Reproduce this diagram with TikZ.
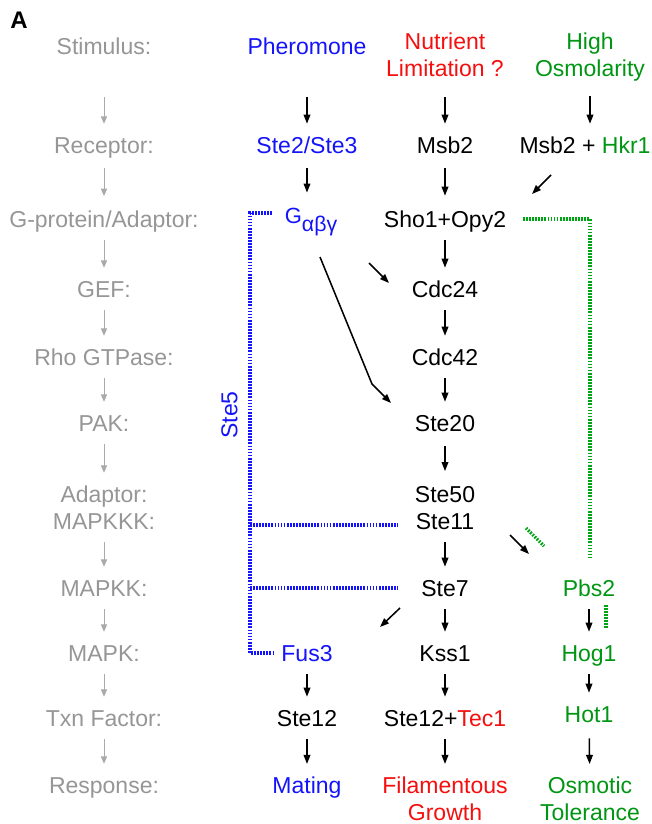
\documentclass[tikz,border=0pt]{standalone}
\usepackage{fontspec}
\setmainfont{Liberation Sans}
\usetikzlibrary{arrows.meta}
\definecolor{cblue}{RGB}{20,20,250}
\definecolor{cred}{RGB}{245,15,15}
\definecolor{cgreen}{RGB}{0,150,20}
\definecolor{cdgreen}{RGB}{0,165,20}
\definecolor{cgray}{RGB}{150,150,150}
\definecolor{cgrayl}{RGB}{170,170,170}
\begin{document}
\begin{tikzpicture}[x=0.75pt,y=-0.75pt,
  every node/.style={inner sep=0pt, outer sep=0pt, font=\fontsize{17.25pt}{20.25pt}\selectfont},
  txt/.style={text height=12.4pt, text depth=0pt, anchor=center},
  ml/.style={align=center, anchor=north},
  lbl/.style={txt, text=cgray},
  arr/.style={-{Triangle[length=6.8pt,width=5pt]}, line width=1.15pt, black, shorten <=9.75pt, shorten >=9.75pt},
  garr/.style={-{Triangle[length=5.5pt,width=4.6pt]}, line width=0.65pt, cgrayl, shorten <=9.75pt, shorten >=9.75pt},
  bdot/.style={cblue, line width=2.4pt, dash pattern=on 1.3pt off 1pt},
  gdot/.style={cdgreen, line width=2.4pt, dash pattern=on 1.3pt off 1pt}
]
\useasboundingbox[fill=white] (0,0) rectangle (652,824);

% panel letter
\node[font=\fontsize{18pt}{20pt}\bfseries\selectfont, anchor=base] (A) at (19,29) {A};

% left gray labels
\node[lbl] (l1) at (104,46) {Stimulus:};
\node[lbl] (l2) at (104,145) {Receptor:};
\node[lbl] (l3) at (104,219) {G-protein/Adaptor:};
\node[lbl] (l4) at (104,289) {GEF:};
\node[lbl] (l5) at (104,357) {Rho GTPase:};
\node[lbl] (l6) at (104,423) {PAK:};
\node[lbl] (l7) at (104,494) {Adaptor:};
\node[lbl] (l8) at (104,521) {MAPKKK:};
\node[lbl] (l9) at (104,588) {MAPKK:};
\node[lbl] (l10) at (104,653) {MAPK:};
\node[lbl] (l11) at (104,718) {Txn Factor:};
\node[lbl] (l12) at (104,785) {Response:};

\draw[garr, shorten <=32pt] (l1) -- (l2);
\draw[garr, shorten <=11pt, shorten >=11pt] (l2) -- (l3);
\draw[garr] (l3) -- (l4);
\draw[garr] (l4) -- (l5);
\draw[garr] (l5) -- (l6);
\draw[garr] (l6) -- (l7);
\draw[garr] (l8) -- (l9);
\draw[garr] (l9) -- (l10);
\draw[garr] (l10) -- (l11);
\draw[garr] (l11) -- (l12);

% pheromone column
\node[txt, text=cblue] (pher) at (307,46) {Pheromone};
\node[txt, text=cblue] (ste23) at (307,145) {Ste2/Ste3};
\node[anchor=base, text=cblue, font=\fontsize{16.5pt}{18pt}\selectfont] (gab) at (311,223) {G\raisebox{-6.5pt}{\fontsize{16pt}{18pt}\selectfont αβγ}};
\node[txt, text=cblue] (fus3) at (307,653) {Fus3};
\node[txt] (ste12) at (307,718) {Ste12};
\node[ml, text=cblue] (mat) at (307,777) {Mating};
\node[txt, text=cblue, rotate=90] (ste5) at (229,415) {Ste5};

% filamentous column
\node[ml, text=cred] (nut) at (445,33) {Nutrient\\Limitation ?};
\node[txt] (msb) at (445,145) {Msb2};
\node[txt] (sho) at (445,219) {Sho1+Opy2};
\node[txt] (cdc24) at (445,289) {Cdc24};
\node[txt] (cdc42) at (445,357) {Cdc42};
\node[txt] (ste20) at (445,423) {Ste20};
\node[txt] (ste50) at (445,494) {Ste50};
\node[txt] (ste11) at (445,521) {Ste11};
\node[txt] (ste7) at (445,588) {Ste7};
\node[txt] (kss1) at (445,653) {Kss1};
\node[txt] (tec) at (445,718) {Ste12+\textcolor{cred}{Tec1}};
\node[ml, text=cred] (fil) at (445,777) {Filamentous\\Growth};

% osmolarity column
\node[ml, text=cgreen] (high) at (590,33) {High\\Osmolarity};
\node[txt] (mh) at (585,145) {Msb2 + \textcolor{cgreen}{Hkr1}};
\node[txt, text=cgreen] (pbs2) at (589,588) {Pbs2};
\node[txt, text=cgreen] (hog1) at (589,653) {Hog1};
\node[txt, text=cgreen] (hot1) at (589,714) {Hot1};
\node[ml, text=cgreen] (osm) at (590,777) {Osmotic\\Tolerance};

% helper coordinates
\coordinate (gs) at (320,257);
\coordinate (gk) at (372,384);
\coordinate (ge) at (391,403);
\coordinate (c24s) at (369,263);
\coordinate (c24e) at (389,283);
\coordinate (mhs) at (551,175);
\coordinate (mhe) at (532,194);
\coordinate (p2s) at (510,535);
\coordinate (p2e) at (529,554);
\coordinate (p2ga) at (526,528);
\coordinate (p2gb) at (544,546);
\coordinate (f3s) at (400,608);
\coordinate (f3e) at (380,627);
\coordinate (bA) at (272,213);
\coordinate (bB) at (250,213);
\coordinate (bC) at (250,653);
\coordinate (bD) at (274,653);
\coordinate (b11a) at (250,525);
\coordinate (b11b) at (398,525);
\coordinate (b7a) at (250,588);
\coordinate (b7b) at (398,588);
\coordinate (gA) at (523,219);
\coordinate (gB) at (590,219);
\coordinate (gC) at (590,558);
\coordinate (hgA) at (606,605);
\coordinate (hgB) at (606,629);

% black arrows
\draw[arr, shorten <=32pt] (pher) -- (ste23);
\draw[arr, shorten <=15pt] (nut) -- (msb);
\draw[arr, shorten <=11pt] (high.south) -- (high.south |- mh.north);
\draw[arr, shorten <=11.25pt, shorten >=11.25pt] (ste23.south) -- (ste23.south |- gab.north);
\draw[arr, shorten <=11.25pt, shorten >=11.25pt] (msb) -- (sho);
\draw[arr, shorten <=0pt, shorten >=0pt] (mhs) -- (mhe);
\draw[arr, shorten <=0pt, shorten >=0pt] (gs) -- (gk) -- (ge);
\draw[arr, shorten <=0pt, shorten >=0pt] (c24s) -- (c24e);
\draw[arr] (sho) -- (cdc24);
\draw[arr] (cdc24) -- (cdc42);
\draw[arr] (cdc42) -- (ste20);
\draw[arr, shorten <=11pt, shorten >=11pt] (ste20) -- (ste50);
\draw[arr] (ste11) -- (ste7);
\draw[arr] (ste7) -- (kss1);
\draw[arr] (kss1) -- (tec);
\draw[arr] (tec) -- (fil);
\draw[arr, shorten <=0pt, shorten >=0pt] (p2s) -- (p2e);
\draw[arr, shorten <=0pt, shorten >=0pt] (f3s) -- (f3e);
\draw[arr] (fus3) -- (ste12);
\draw[arr] (ste12) -- (mat);
\draw[arr] (pbs2) -- (hog1);
\draw[arr] (hog1) -- (hot1);
\draw[arr, shorten <=12pt] (hot1) -- (osm);

% scaffold (Ste5) dotted bracket
\draw[bdot] (bA) -- (bB) -- (bC) -- (bD);
\draw[bdot] (b11a) -- (b11b);
\draw[bdot] (b7a) -- (b7b);

% green dotted
\draw[gdot] (gA) -- (gB) -- (gC);
\draw[gdot] (p2ga) -- (p2gb);
\draw[gdot] (hgA) -- (hgB);
\end{tikzpicture}
\end{document}
